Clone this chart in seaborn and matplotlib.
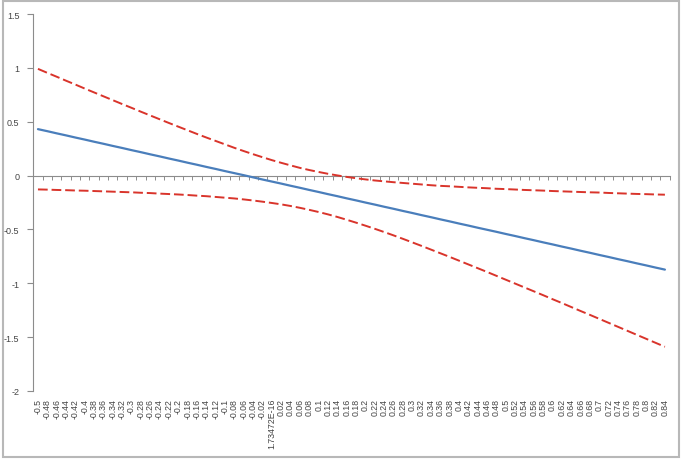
import numpy as np
import pandas as pd
import matplotlib
matplotlib.use('Agg')
import matplotlib.pyplot as plt
from matplotlib.patches import Rectangle
import seaborn as sns

# category labels on the x axis (Excel category axis)
x_labels = ['-0.5', '-0.48', '-0.46', '-0.44', '-0.42', '-0.4', '-0.38', '-0.36', '-0.34', '-0.32',
            '-0.3', '-0.28', '-0.26', '-0.24', '-0.22', '-0.2', '-0.18', '-0.16', '-0.14', '-0.12',
            '-0.1', '-0.08', '-0.06', '-0.04', '-0.02', '1.73472E-16', '0.02', '0.04', '0.06', '0.08',
            '0.1', '0.12', '0.14', '0.16', '0.18', '0.2', '0.22', '0.24', '0.26', '0.28',
            '0.3', '0.32', '0.34', '0.36', '0.38', '0.4', '0.42', '0.44', '0.46', '0.48',
            '0.5', '0.52', '0.54', '0.56', '0.58', '0.6', '0.62', '0.64', '0.66', '0.68',
            '0.7', '0.72', '0.74', '0.76', '0.78', '0.8', '0.82', '0.84']

# fitted line (blue)
fit = [0.432, 0.413, 0.393, 0.374, 0.354, 0.335, 0.315, 0.296, 0.276, 0.257,
       0.237, 0.218, 0.198, 0.179, 0.159, 0.140, 0.120, 0.101, 0.081, 0.062,
       0.042, 0.023, 0.004, -0.016, -0.036, -0.055, -0.074, -0.094, -0.113, -0.133,
       -0.152, -0.172, -0.191, -0.211, -0.230, -0.250, -0.269, -0.289, -0.308, -0.328,
       -0.347, -0.367, -0.386, -0.406, -0.425, -0.445, -0.464, -0.484, -0.503, -0.522,
       -0.542, -0.561, -0.581, -0.600, -0.620, -0.639, -0.659, -0.678, -0.698, -0.717,
       -0.737, -0.756, -0.776, -0.795, -0.815, -0.834, -0.854, -0.873]

# upper band (red dashed)
upper = [0.992, 0.955, 0.919, 0.882, 0.846, 0.809, 0.773, 0.737, 0.701, 0.665,
         0.630, 0.594, 0.559, 0.524, 0.489, 0.455, 0.421, 0.387, 0.354, 0.322,
         0.290, 0.258, 0.228, 0.199, 0.171, 0.144, 0.119, 0.095, 0.072, 0.052,
         0.034, 0.017, 0.002, -0.012, -0.024, -0.035, -0.045, -0.053, -0.061, -0.068,
         -0.075, -0.082, -0.089, -0.095, -0.099, -0.104, -0.109, -0.113, -0.117, -0.122,
         -0.125, -0.129, -0.133, -0.136, -0.139, -0.143, -0.146, -0.149, -0.152, -0.155,
         -0.157, -0.161, -0.164, -0.167, -0.170, -0.172, -0.175, -0.177]

# lower band (red dashed)
lower = [-0.128, -0.130, -0.133, -0.135, -0.138, -0.140, -0.143, -0.146, -0.149, -0.152,
         -0.155, -0.159, -0.162, -0.167, -0.171, -0.175, -0.180, -0.186, -0.191, -0.198,
         -0.205, -0.212, -0.221, -0.231, -0.242, -0.254, -0.267, -0.282, -0.299, -0.318,
         -0.338, -0.360, -0.384, -0.410, -0.437, -0.465, -0.494, -0.524, -0.555, -0.587,
         -0.620, -0.653, -0.687, -0.721, -0.755, -0.790, -0.825, -0.860, -0.895, -0.931,
         -0.967, -1.003, -1.039, -1.075, -1.111, -1.148, -1.184, -1.221, -1.258, -1.294,
         -1.331, -1.368, -1.405, -1.442, -1.479, -1.516, -1.553, -1.590]

df = pd.DataFrame({'pos': np.arange(len(x_labels)), 'fit': fit, 'upper': upper, 'lower': lower})

sns.set_style('white')
plt.rcParams['font.family'] = ['Liberation Sans', 'DejaVu Sans']

fig = plt.figure(figsize=(6.82, 4.6), dpi=100)
ax = fig.add_axes([0.0488, 0.148, 0.933, 0.819])

red = '#d9342b'
blue = '#4a7ebb'
sns.lineplot(data=df, x='pos', y='upper', ax=ax, color=red, linewidth=1.4, linestyle=(0, (5, 2)))
sns.lineplot(data=df, x='pos', y='lower', ax=ax, color=red, linewidth=1.4, linestyle=(0, (5, 2)))
sns.lineplot(data=df, x='pos', y='fit', ax=ax, color=blue, linewidth=1.6)

n = len(x_labels)
ax.set_xlim(-0.5, n - 0.5)
ax.set_ylim(-2, 1.5)
ax.set_yticks([-2, -1.5, -1, -0.5, 0, 0.5, 1, 1.5])
ax.set_yticklabels(['-2', '-1.5', '-1', '-0.5', '0', '0.5', '1', '1.5'])
ax.set_xticks(df['pos'])
ax.set_xticklabels(x_labels, rotation=90)
ax.set_xlabel('')
ax.set_ylabel('')

for s in ['top', 'right', 'bottom']:
    ax.spines[s].set_visible(False)
ax.spines['left'].set_color('#8c8c8c')
ax.spines['left'].set_linewidth(0.8)
ax.tick_params(axis='y', direction='out', length=4, width=0.8, color='#8c8c8c',
               labelsize=6.5, labelcolor='#444444', pad=6, left=True)
ax.tick_params(axis='x', length=0, labelsize=6.3, labelcolor='#444444', pad=5)

# horizontal axis line crossing at y = 0, tick marks between categories
zero_frac = (0 - (-2)) / 3.5
sec = ax.secondary_xaxis(zero_frac)
sec.set_alignment('bottom')
sec.spines['bottom'].set_color('#8c8c8c')
sec.spines['bottom'].set_linewidth(0.8)
sec.set_xticks(np.arange(n + 1) - 0.5, labels=[''] * (n + 1))
sec.tick_params(axis='x', direction='out', length=3, width=0.7, color='#8c8c8c',
                labelbottom=False, labeltop=False, top=False, bottom=True)

# outer chart frame
fig.patches.append(Rectangle((0.004, 0.005), 0.992, 0.99, transform=fig.transFigure,
                             fill=False, edgecolor='#b8b8b8', linewidth=1.5))

fig.savefig('out.png', dpi=100)
